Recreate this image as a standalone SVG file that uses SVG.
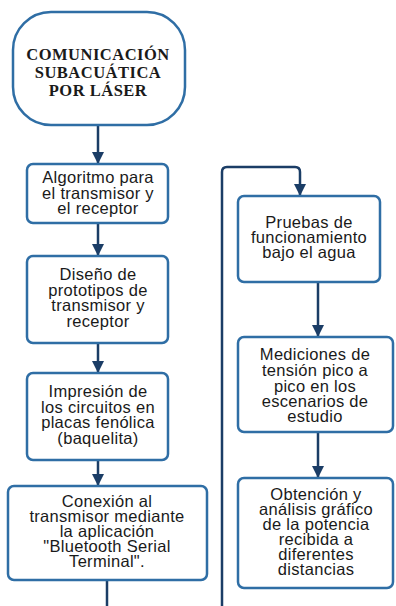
<svg xmlns="http://www.w3.org/2000/svg" width="396" height="606" viewBox="0 0 396 606">
<style>
.box{fill:#ffffff;stroke:#2f6ea5;stroke-width:2.5}
.con{fill:none;stroke:#1b3d66;stroke-width:2.5}
.t{font-family:"Liberation Sans",Arial,sans-serif;font-size:16.5px;fill:#1a1a1a;text-anchor:middle;letter-spacing:0.3px}
.title{font-family:"Liberation Serif","Times New Roman",serif;font-size:16.5px;font-weight:bold;fill:#1a1a1a;text-anchor:middle;letter-spacing:0.5px}
</style>
<defs>
<marker id="ah" markerUnits="userSpaceOnUse" markerWidth="12" markerHeight="12" refX="12" refY="6" orient="auto">
<path d="M0,0 L12,6 L0,12 z" fill="#1b3d66"/>
</marker>
</defs>
<rect width="396" height="606" fill="#ffffff"/>
<g id="connectors">
<path class="con" d="M98,125 V164" marker-end="url(#ah)"/>
<path class="con" d="M98,223 V256" marker-end="url(#ah)"/>
<path class="con" d="M98,343 V373" marker-end="url(#ah)"/>
<path class="con" d="M98,460 V486" marker-end="url(#ah)"/>
<path class="con" d="M107,580 V606"/>
<path class="con" d="M222,606 V172 Q222,167 227,167 H295 Q300,167 300,172 V196" marker-end="url(#ah)"/>
<path class="con" d="M318,282 V337" marker-end="url(#ah)"/>
<path class="con" d="M318,432 V478" marker-end="url(#ah)"/>
</g>
<g id="n0">
<rect class="box" x="13" y="12" width="172" height="113" rx="38" ry="38"/>
<text class="title" x="98" y="60">COMUNICACIÓN</text>
<text class="title" x="98" y="78">SUBACUÁTICA</text>
<text class="title" x="98" y="96">POR LÁSER</text>
</g>
<g id="n1">
<rect class="box" x="27" y="164" width="141" height="59" rx="6"/>
<text class="t" x="98" y="183">Algoritmo para</text>
<text class="t" x="98" y="199">el transmisor y</text>
<text class="t" x="98" y="214">el receptor</text>
</g>
<g id="n2">
<rect class="box" x="27" y="256" width="141" height="87" rx="6"/>
<text class="t" x="98" y="280">Diseño de</text>
<text class="t" x="98" y="296">prototipos de</text>
<text class="t" x="98" y="311">transmisor y</text>
<text class="t" x="98" y="327">receptor</text>
</g>
<g id="n3">
<rect class="box" x="27" y="373" width="141" height="87" rx="6"/>
<text class="t" x="98" y="397">Impresión de</text>
<text class="t" x="98" y="413">los circuitos en</text>
<text class="t" x="98" y="428">placas fenólica</text>
<text class="t" x="98" y="444">(baquelita)</text>
</g>
<g id="n4">
<rect class="box" x="8" y="486" width="199" height="94" rx="6"/>
<text class="t" x="107" y="507">Conexión al</text>
<text class="t" x="107" y="522">transmisor mediante</text>
<text class="t" x="107" y="537">la aplicación</text>
<text class="t" x="107" y="552">"Bluetooth Serial</text>
<text class="t" x="107" y="567">Terminal".</text>
</g>
<g id="n5">
<rect class="box" x="238" y="196" width="142" height="86" rx="6"/>
<text class="t" x="309" y="228">Pruebas de</text>
<text class="t" x="309" y="243">funcionamiento</text>
<text class="t" x="309" y="258">bajo el agua</text>
</g>
<g id="n6">
<rect class="box" x="238" y="337" width="155" height="95" rx="6"/>
<text class="t" x="315" y="360">Mediciones de</text>
<text class="t" x="315" y="376">tensión pico a</text>
<text class="t" x="315" y="392">pico en los</text>
<text class="t" x="315" y="407">escenarios de</text>
<text class="t" x="315" y="422">estudio</text>
</g>
<g id="n7">
<rect class="box" x="238" y="478" width="155" height="110" rx="6"/>
<text class="t" x="316" y="500">Obtención y</text>
<text class="t" x="316" y="515">análisis gráfico</text>
<text class="t" x="316" y="530">de la potencia</text>
<text class="t" x="316" y="545">recibida a</text>
<text class="t" x="316" y="560">diferentes</text>
<text class="t" x="316" y="575">distancias</text>
</g>
</svg>
